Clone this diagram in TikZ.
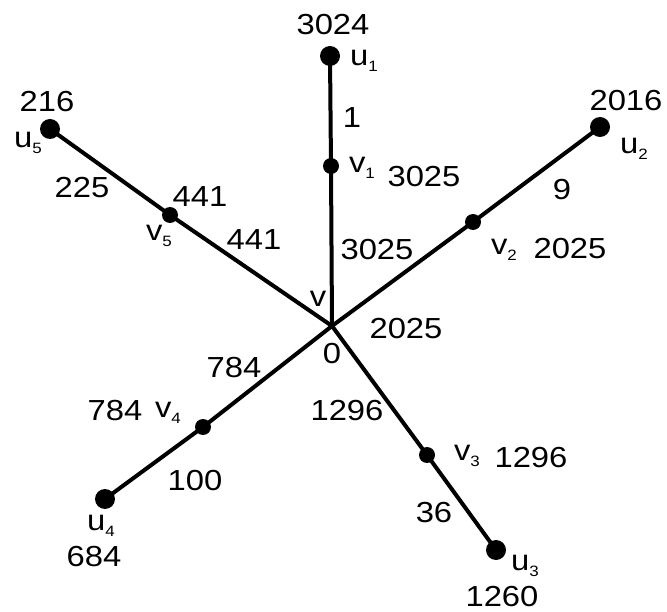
\documentclass[tikz,border=0pt]{standalone}
\usepackage{fontspec}
\setmainfont[FakeStretch=1.13]{Liberation Sans}
\newcommand{\sbs}[1]{{\fontsize{15}{15}\selectfont\raisebox{-6pt}{#1}}}
\begin{document}
\begin{tikzpicture}[x=1pt,y=-1pt,
  dotbig/.style={circle,fill=black,inner sep=0pt,minimum size=20pt},
  dotsm/.style={circle,fill=black,inner sep=0pt,minimum size=16pt},
  edge/.style={line width=4pt},
  lbl/.style={inner sep=0pt,font=\fontsize{29}{29}\selectfont}]
\useasboundingbox (0,0) rectangle (667,612);
\coordinate (v) at (332,326);
\node[dotsm] (v1) at (331,166) {};
\node[dotbig] (u1) at (330,56) {};
\node[dotsm] (v2) at (473,222) {};
\node[dotbig] (u2) at (600,127) {};
\node[dotsm] (v3) at (427,455) {};
\node[dotbig] (u3) at (496,550) {};
\node[dotsm] (v4) at (203,427) {};
\node[dotbig] (u4) at (105,499) {};
\node[dotsm] (v5) at (170,215) {};
\node[dotbig] (u5) at (50,129) {};
\draw[edge] (v) -- (v1.center) -- (u1.center);
\draw[edge] (v) -- (v2.center) -- (u2.center);
\draw[edge] (v) -- (v3.center) -- (u3.center);
\draw[edge] (v) -- (v4.center) -- (u4.center);
\draw[edge] (v) -- (v5.center) -- (u5.center);
% labels
\node[lbl] (t1) at (333,25) {3024};
\node[lbl] (t2) at (364,61) {u\sbs{1}};
\node[lbl] (t3) at (352,118) {1};
\node[lbl] (t4) at (362,168) {v\sbs{1}};
\node[lbl] (t5) at (424,177) {3025};
\node[lbl] (t6) at (377,250) {3025};
\node[lbl] (t7) at (318,299) {v};
\node[lbl] (t8) at (626,101) {2016};
\node[lbl] (t9) at (634,149) {u\sbs{2}};
\node[lbl] (t10) at (562,190) {9};
\node[lbl] (t11) at (504,250) {v\sbs{2}};
\node[lbl] (t12) at (570,249) {2025};
\node[lbl] (t13) at (406,329) {2025};
\node[lbl] (t14) at (332,354) {0};
\node[lbl] (t15) at (47,102) {216};
\node[lbl] (t16) at (28,143) {u\sbs{5}};
\node[lbl] (t17) at (82,188) {225};
\node[lbl] (t18) at (200,197) {441};
\node[lbl] (t19) at (159,236) {v\sbs{5}};
\node[lbl] (t20) at (254,240) {441};
\node[lbl] (t21) at (234,368) {784};
\node[lbl] (t22) at (115,411) {784};
\node[lbl] (t23) at (168,413) {v\sbs{4}};
\node[lbl] (t24) at (195,481) {100};
\node[lbl] (t25) at (101,526) {u\sbs{4}};
\node[lbl] (t26) at (94,557) {684};
\node[lbl] (t27) at (347,411) {1296};
\node[lbl] (t28) at (467,456) {v\sbs{3}};
\node[lbl] (t29) at (531,458) {1296};
\node[lbl] (t30) at (434,513) {36};
\node[lbl] (t31) at (525,566) {u\sbs{3}};
\node[lbl] (t32) at (502,597) {1260};
\end{tikzpicture}
\end{document}
